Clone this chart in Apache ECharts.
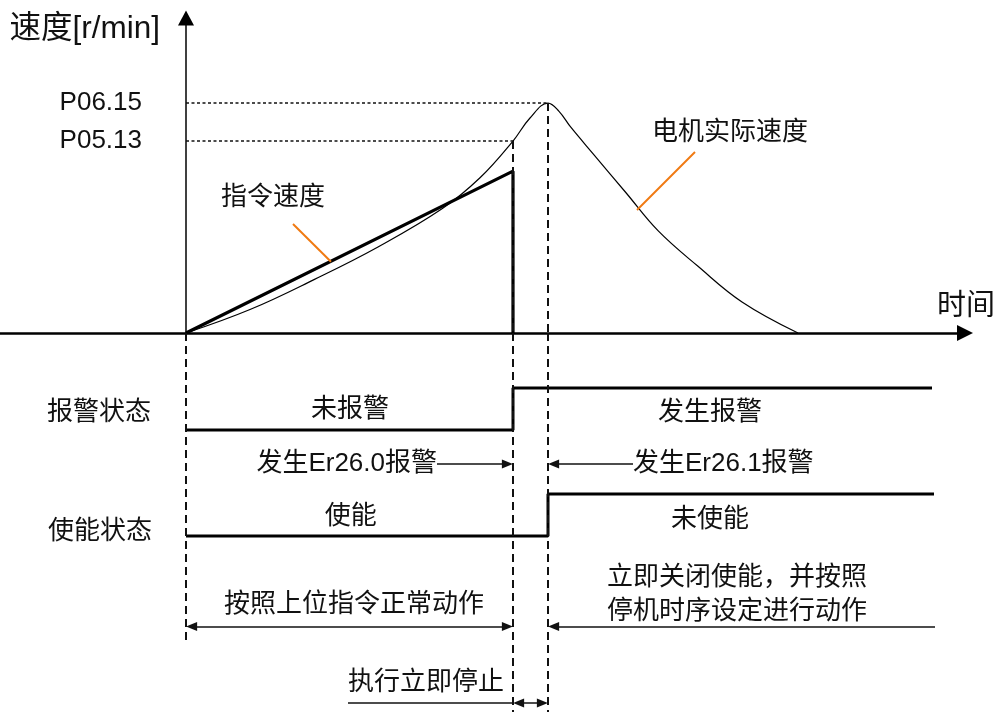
<!DOCTYPE html>
<html>
<head>
<meta charset="utf-8">
<script src="https://cdn.jsdelivr.net/npm/echarts@6/dist/echarts.min.js"></script>
<style>
  html, body { margin: 0; padding: 0; background: #fff; }
  #chart { width: 998px; height: 712px; }
</style>
</head>
<body>
<div id="chart"></div>
<script>
// 时间轴（任意单位）
const tAlarm = 40.875      // 发生 Er26.0 报警
const tDisable = 45.25     // 发生 Er26.1 报警，关闭使能

// 电机实际速度
const actualT = [0, 8, 16, 24, 32, 36.75, 40.875, 43.0, 45.25, 46.6, 48.1, 51, 55, 59, 64, 69.5, 76.5]
const actualSpeed = [0, 10.2, 23.2, 37.4, 54, 67.5, 83.5, 93.5, 100, 96.5, 89.5, 77.5, 61, 44.5, 29, 13.5, 0]

// 指令速度
const cmdT = [0, tAlarm, tAlarm]
const cmdSpeed = [0, 70.4, 0]

// 参数
const paramNames = ['P05.13', 'P06.15']
const paramSpeeds = [83.5, 100]

// 报警 / 使能 信号（0 低，1 高）
const alarmT = [0, tAlarm, 93.25]
const alarmLevel = [0, 1, 1]
const enableT = [0, tDisable, 93.5]
const enableLevel = [0, 1, 1]

const FONT = "'Liberation Sans', Arial, 'Noto Sans CJK SC', sans-serif"
const INK = '#111'
const ORANGE = '#f07a12'
const pad = 0.7   // 箭头尖端补偿

// 下方注释区纵向位置（时间轴以下的距离）
const lane = { event: 131, action: 293.5, stop: 370, guideEnd: 379, originEnd: 312 }

const chart = echarts.init(document.getElementById('chart'), null, { renderer: 'canvas' })

function zip(xs, ys) {
  return xs.map((x, i) => [x, ys[i]])
}

function seg(a, b, symA, symB) {
  return [{ coord: a, symbol: symA || 'none' }, { coord: b, symbol: symB || 'none' }]
}

function marks(lines, style) {
  return {
    silent: true,
    symbol: 'none',
    symbolSize: [9, 11],
    label: { show: false },
    emphasis: { disabled: true },
    animation: false,
    lineStyle: Object.assign({ color: INK, width: 1.5, type: 'solid' }, style),
    data: lines
  }
}

function texts(items) {
  return {
    silent: true,
    symbol: 'circle',
    symbolSize: 0,
    animation: false,
    label: { show: true, position: 'inside', formatter: '{b}', color: INK, fontSize: 26, fontFamily: FONT },
    data: items
  }
}

function helper(idx, markLine, markPoint) {
  return {
    type: 'line', xAxisIndex: idx, yAxisIndex: idx, data: [], symbol: 'none',
    silent: true, animation: false, markLine, markPoint
  }
}

const xBase = { type: 'value', min: -23.25, max: 97.375, show: false }
const gridBase = { left: 0, width: 965, outerBoundsMode: 'none' }

const dashed = { width: 2, type: [8, 5] }

// 参数刻度标签，放在纵轴左侧
const paramTicks = paramNames.map((n, i) => ({
  name: n, coord: [-5.5, paramSpeeds[i]], label: { position: 'left', distance: 0 }
}))

const option = {
  animation: false,
  grid: [
    Object.assign({ top: 18, height: 315 }, gridBase),
    Object.assign({ top: 388, height: 42 }, gridBase),
    Object.assign({ top: 494, height: 42 }, gridBase),
    Object.assign({ top: 333, height: 379 }, gridBase)
  ],
  xAxis: [
    {
      type: 'value', gridIndex: 0, min: -23.25, max: 97.375,
      axisLine: { show: true, lineStyle: { color: '#000', width: 2.5 }, symbol: ['none', 'triangle'], symbolSize: [16, 16] },
      axisTick: { show: false }, axisLabel: { show: false }, splitLine: { show: false },
      name: '时间', nameLocation: 'end', nameGap: 1,
      nameTextStyle: { fontSize: 29, color: INK, fontFamily: FONT, align: 'center', verticalAlign: 'bottom', padding: [0, 0, 11, 0] }
    },
    Object.assign({ gridIndex: 1 }, xBase),
    Object.assign({ gridIndex: 2 }, xBase),
    Object.assign({ gridIndex: 3 }, xBase)
  ],
  yAxis: [
    {
      type: 'value', gridIndex: 0, min: 0, max: 137,
      axisLine: { show: true, onZero: true, lineStyle: { color: '#000', width: 1.5 }, symbol: ['none', 'triangle'], symbolSize: [16, 15] },
      axisTick: { show: false }, splitLine: { show: false }, axisLabel: { show: false },
      name: '速度[r/min]', nameLocation: 'end', nameGap: -11,
      nameTextStyle: { fontSize: 31.5, color: INK, fontFamily: FONT, align: 'right', verticalAlign: 'middle', padding: [0, 26, 0, 0] }
    },
    { type: 'value', gridIndex: 1, min: 0, max: 1, show: false },
    { type: 'value', gridIndex: 2, min: 0, max: 1, show: false },
    { type: 'value', gridIndex: 3, min: 0, max: 379, inverse: true, show: false }
  ],
  series: [
    {
      name: '电机实际速度', type: 'line', xAxisIndex: 0, yAxisIndex: 0,
      data: zip(actualT, actualSpeed), smooth: 0.4, symbol: 'none', clip: false,
      lineStyle: { color: '#000', width: 1.2 },
      markLine: marks([
        seg([0, paramSpeeds[0]], [tAlarm, paramSpeeds[0]]),
        seg([0, paramSpeeds[1]], [tDisable, paramSpeeds[1]])
      ], { width: 1.5, type: [3, 2.5] }),
      markPoint: texts(paramTicks)
    },
    {
      name: '指令速度', type: 'line', xAxisIndex: 0, yAxisIndex: 0,
      data: zip(cmdT, cmdSpeed), symbol: 'none', clip: false,
      lineStyle: { color: '#000', width: 3.2 }
    },
    helper(0, marks([
      seg([tAlarm, paramSpeeds[0]], [tAlarm, 0]),
      seg([tDisable, paramSpeeds[1]], [tDisable, 0])
    ], dashed)),
    helper(0, marks([
      seg([13.375, 47.4], [18.125, 31.0]),
      seg([63.625, 78.7], [56.375, 53.5])
    ], { color: ORANGE, width: 2 }), texts([
      { name: '指令速度', coord: [10.875, 58.7] },
      { name: '电机实际速度', coord: [68, 87] }
    ])),
    {
      name: '报警状态', type: 'line', xAxisIndex: 1, yAxisIndex: 1,
      data: zip(alarmT, alarmLevel), step: 'end', symbol: 'none', clip: false,
      lineStyle: { color: '#000', width: 3 },
      markPoint: texts([
        { name: '报警状态', coord: [-10.875, 0.405] },
        { name: '未报警', coord: [20.5, 0.476] },
        { name: '发生报警', coord: [65.5, 0.405] }
      ])
    },
    {
      name: '使能状态', type: 'line', xAxisIndex: 2, yAxisIndex: 2,
      data: zip(enableT, enableLevel), step: 'end', symbol: 'none', clip: false,
      lineStyle: { color: '#000', width: 3 },
      markPoint: texts([
        { name: '使能状态', coord: [-10.75, 0.095] },
        { name: '使能', coord: [20.6, 0.45] },
        { name: '未使能', coord: [65.5, 0.38] }
      ])
    },
    helper(3, marks([
      seg([0, 0], [0, lane.originEnd]),
      seg([tAlarm, 0], [tAlarm, lane.guideEnd]),
      seg([tDisable, 0], [tDisable, lane.guideEnd])
    ], dashed)),
    helper(3, marks([
      seg([31.375, lane.event], [tAlarm - pad, lane.event], 'none', 'triangle'),
      seg([55.875, lane.event], [tDisable + pad, lane.event], 'none', 'triangle'),
      seg([0 + pad, lane.action], [tAlarm - pad, lane.action], 'triangle', 'triangle'),
      seg([93.625, lane.action], [tDisable + pad, lane.action], 'none', 'triangle'),
      seg([20.25, lane.stop], [tAlarm, lane.stop]),
      seg([tAlarm + pad, lane.stop], [tDisable - pad, lane.stop], 'triangle', 'triangle')
    ], { width: 1.5 }), texts([
      { name: '发生Er26.0报警', coord: [31.375, lane.event], label: { position: 'left', distance: 0 } },
      { name: '发生Er26.1报警', coord: [55.875, lane.event], label: { position: 'right', distance: 0 } },
      { name: '按照上位指令正常动作', coord: [21, 272] },
      { name: '立即关闭使能，并按照\n停机时序设定进行动作', coord: [68.875, 262], label: { lineHeight: 34 } },
      { name: '执行立即停止', coord: [30, 350] }
    ]))
  ]
}

chart.setOption(option)
</script>
</body>
</html>
